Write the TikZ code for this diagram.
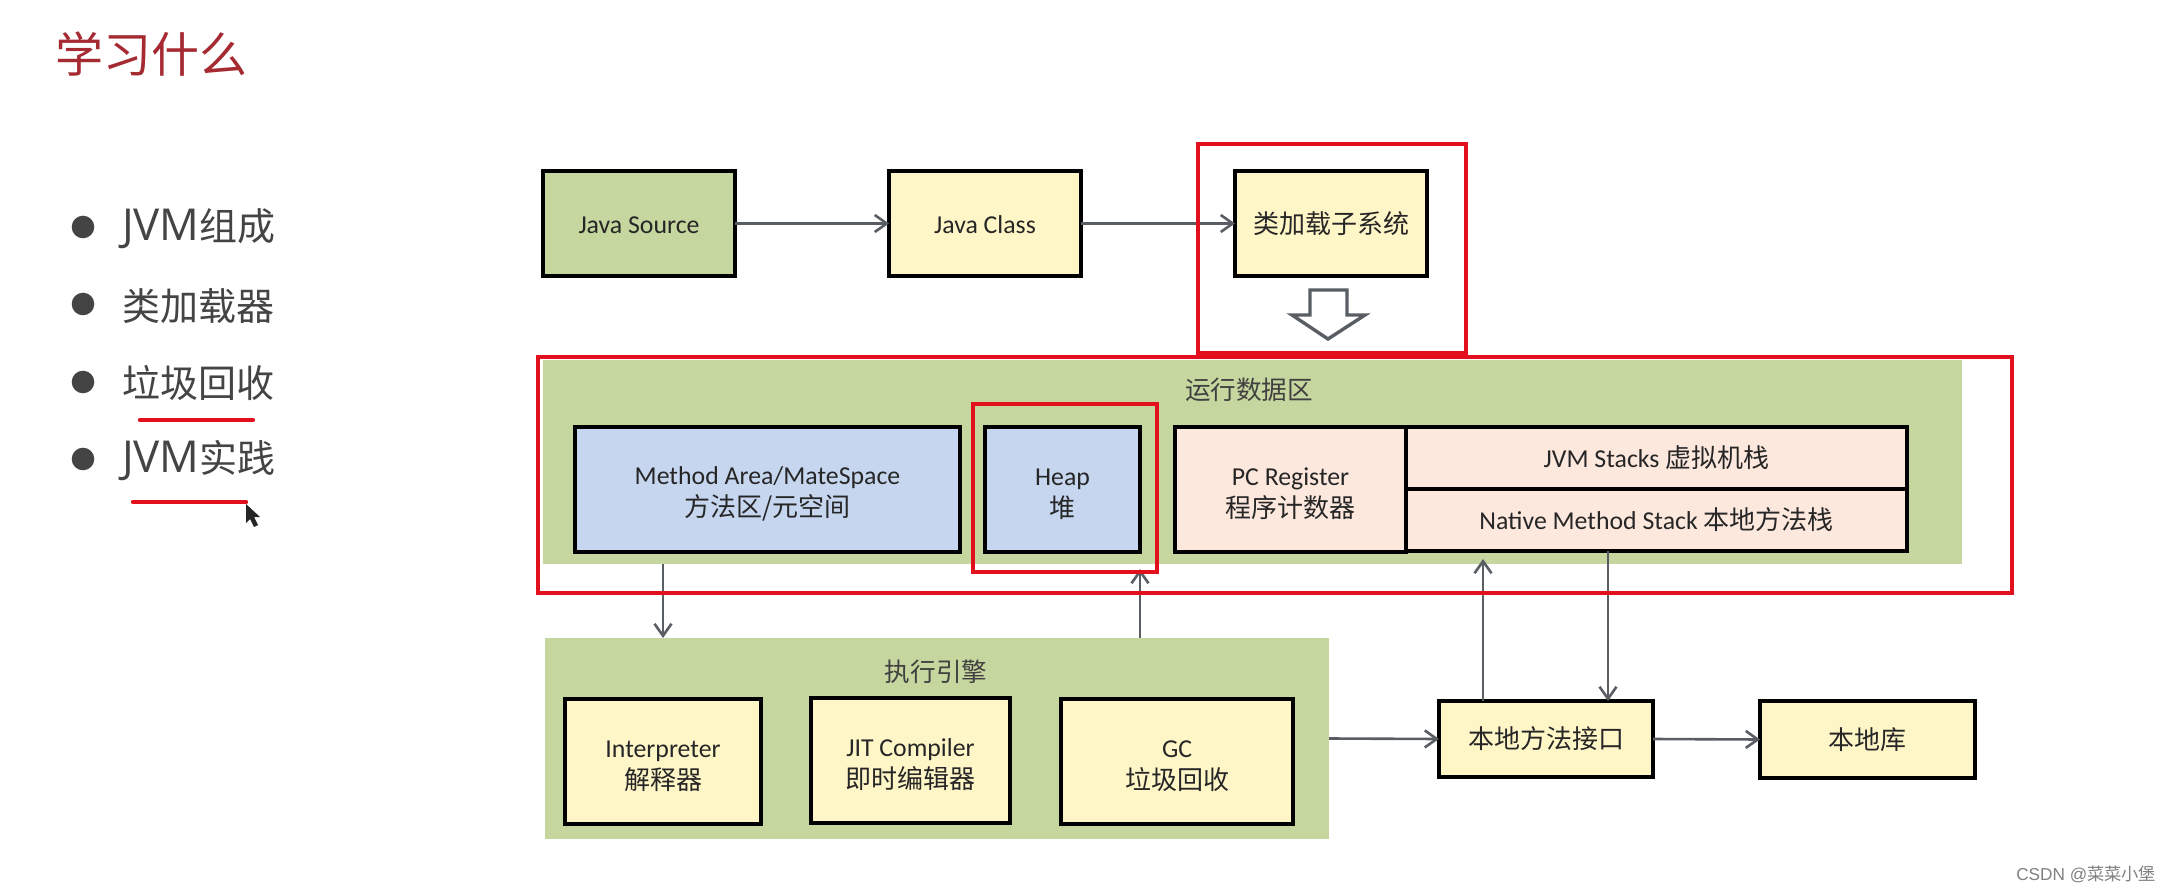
\documentclass[tikz,border=0pt]{standalone}
\usepackage{fontspec}
\setmainfont{Carlito}
\newfontfamily\zh{Noto Sans CJK SC}
\newfontfamily\lat{Open Sans}
\newfontfamily\wm{Liberation Sans}
\usetikzlibrary{arrows.meta}
\definecolor{grn}{HTML}{C5D69F}
\definecolor{yel}{HTML}{FFF6C8}
\definecolor{blu}{HTML}{C6D6EF}
\definecolor{sal}{HTML}{FDE8DE}
\definecolor{arrc}{HTML}{595E64}
\definecolor{redc}{HTML}{E2101C}
\definecolor{ttl}{HTML}{A52A32}
\definecolor{blt}{HTML}{444444}
\newcommand{\bx}[7]{%
  \pgfmathsetmacro\cxx{(#3+#5)/2}\pgfmathsetmacro\cyy{(#4+#6)/2}%
  \pgfmathsetmacro\www{(#5-#3)*0.5}\pgfmathsetmacro\hhh{(#6-#4)*0.5}%
  \node[#2,minimum width=\www pt,minimum height=\hhh pt] (#1) at (\cxx,\cyy) {#7};}
\newcommand{\upk}{\rule{0pt}{13pt}}
\newcommand{\ups}{\rule{0pt}{10pt}}
\newcommand{\zb}{\zh\fontsize{13}{16}\selectfont}
\tikzset{
  x=0.5pt,y=-0.5pt,
  every node/.style={inner sep=0pt,outer sep=0pt,text=black!85},
  box/.style={draw=black,line width=1.8pt,align=center,font=\fontsize{12.9}{16}\selectfont},
  ybox/.style={box,fill=yel},
  bbox/.style={box,fill=blu},
  sbox/.style={box,fill=sal},
  panel/.style={fill=grn},
  redbox/.style={draw=redc,line width=1.9pt},
  arr/.style={draw=arrc,line width=1.3pt,-{Straight Barb[length=6pt,width=8.5pt,line width=1.3pt]}},
  ttlt/.style={font=\zh\fontsize{12.8}{15}\selectfont,text=black!75},
  bul/.style={circle,fill=blt,minimum size=11.3pt},
  item/.style={anchor=west,text=blt,font=\fontsize{19}{23}\selectfont},
  hl/.style={draw=redc,line width=2.2pt,line cap=round},
}
\begin{document}
\begin{tikzpicture}
\useasboundingbox[fill=white] (0,0) rectangle (2171,892);
% left column
\node[anchor=west,text=ttl,font=\zh\fontsize{24}{28}\selectfont] (title) at (55,54) {学习什么};
\node[bul] (b1) at (83,227) {};
\node[bul] (b2) at (83,304) {};
\node[bul] (b3) at (83,382) {};
\node[bul] (b4) at (83,459) {};
\node[item] (t1) at (122,229) {{\lat\fontsize{22}{23}\selectfont JVM}{\zh 组成}};
\node[item] (t2) at (122,306) {\zh 类加载器};
\node[item] (t3) at (122,383) {\zh 垃圾回收};
\node[item] (t4) at (122,461) {{\lat\fontsize{22}{23}\selectfont JVM}{\zh 实践}};
\coordinate (u1a) at (140,420); \coordinate (u1b) at (253,420);
\coordinate (u2a) at (133,502); \coordinate (u2b) at (246,502);
\draw[hl] (u1a) -- (u1b);
\draw[hl] (u2a) -- (u2b);
\fill[black!85] (246,504) -- (246,523) -- (250,519) -- (254,527) -- (258,525) -- (254,517) -- (260,517) -- cycle;
% panels
\bx{run}{panel}{543}{360}{1962}{564}{}
\bx{exec}{panel}{545}{638}{1329}{839}{}
\node[ttlt] (runt) at (1249,390) {运行数据区};
\node[ttlt] (exect) at (936,672) {执行引擎};
% boxes
\bx{src}{box,fill=grn}{543}{171}{735}{276}{\ups Java Source}
\bx{cls}{ybox}{889}{171}{1081}{276}{\ups Java Class}
\bx{ldr}{ybox}{1235}{171}{1427}{276}{\zb 类加载子系统}
\bx{meth}{bbox}{575}{427}{960}{552}{\upk Method Area/MateSpace\\{\zb 方法区/元空间}}
\bx{heap}{bbox}{985}{427}{1140}{552}{\upk Heap\\{\zb 堆}}
\bx{pc}{sbox}{1175}{427}{1406}{552}{\upk PC Register\\{\zb 程序计数器}}
\bx{jst}{sbox}{1406}{427}{1907}{489}{JVM Stacks {\zb 虚拟机栈}}
\bx{nst}{sbox}{1406}{489}{1907}{551}{Native Method Stack {\zb 本地方法栈}}
\bx{int}{ybox}{565}{699}{761}{824}{\upk Interpreter\\{\zb 解释器}}
\bx{jit}{ybox}{811}{698}{1010}{823}{\upk JIT Compiler\\{\zb 即时编辑器}}
\bx{gc}{ybox}{1061}{699}{1293}{824}{\upk GC\\{\zb 垃圾回收}}
\bx{nif}{ybox}{1439}{701}{1653}{777}{\zb 本地方法接口}
\bx{lib}{ybox}{1760}{701}{1975}{778}{\zb 本地库}
% connectors
\coordinate (mx) at (663,600);
\coordinate (hin) at (1140,569);
\coordinate (nin) at (1483,559);
\coordinate (nout) at (1608,600);
\draw[arr] (src.east) -- (cls.west);
\draw[arr] (cls.east) -- (ldr.west);
\draw[arr] (exec.east) -- (nif.west);
\draw[arr] (nif.east) -- (lib.west);
\draw[arr,line width=1.2pt] (mx |- run.south) -- (mx |- exec.north);
\draw[arr,line width=1.2pt] (hin |- exec.north) -- (hin);
\draw[arr,line width=1.2pt] (nin |- nif.north) -- (nin);
\draw[arr,line width=1.2pt] (nout |- nst.south) -- (nout |- nif.north);
% hollow arrow
\draw[draw=arrc,fill=white,line width=1.7pt,line join=miter]
  (1310,290) -- (1347,290) -- (1347,315) -- (1365,315) -- (1328,339) -- (1292,315) -- (1310,315) -- cycle;
% red frames
\bx{r1}{redbox}{1198}{144}{1466}{353}{}
\bx{r2}{redbox}{538}{357}{2012}{593}{}
\bx{r3}{redbox}{973}{404}{1157}{572}{}
% watermark
\node[anchor=east,text=black!50,font=\fontsize{8.6}{10}\selectfont] (wm) at (2156,874) {{\wm CSDN @}{\zh 菜菜小堡}};
\end{tikzpicture}
\end{document}
